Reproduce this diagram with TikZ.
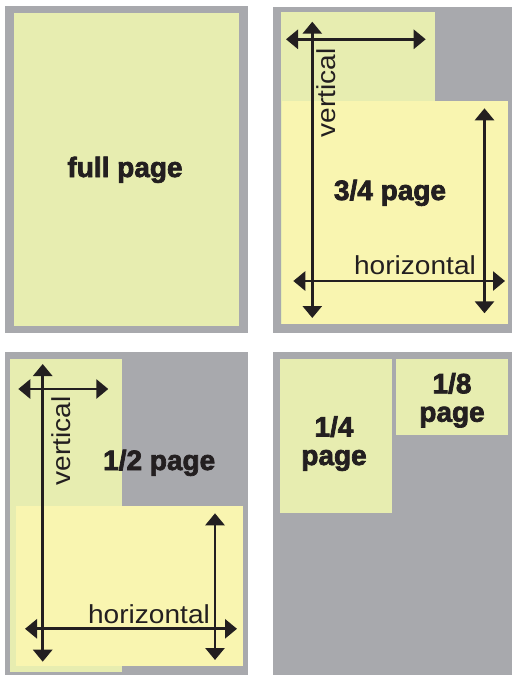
\documentclass[tikz,border=0pt]{standalone}
\usepackage{fontspec}
\setmainfont{Liberation Sans}
\newfontfamily\heavyfont[FakeBold=2.5]{Liberation Sans Bold}
\usepackage{graphicx}
\usetikzlibrary{arrows.meta}
\definecolor{panelgray}{RGB}{168,169,173}
\definecolor{pagegreen}{RGB}{231,237,176}
\definecolor{pageyellow}{RGB}{249,245,176}
\definecolor{inkdark}{RGB}{35,31,32}
\tikzset{
  panel/.style={fill=panelgray,draw=none},
  greenbox/.style={fill=pagegreen,draw=none},
  yellowbox/.style={fill=pageyellow,draw=none},
  dimarrow/.style={draw=inkdark,line width=2.8pt,{Triangle[length=12pt,width=19pt]}-{Triangle[length=12pt,width=19pt]}},
  biglabel/.style={text=inkdark,inner sep=0pt,anchor=base,font=\fontsize{28}{28}\selectfont\heavyfont},
  dimlabel/.style={text=inkdark,inner sep=0pt,anchor=base,font=\fontsize{26}{26}\selectfont},
}
\begin{document}
\begin{tikzpicture}[x=1pt,y=-1pt]
\useasboundingbox (0,0) rectangle (512,675);
\fill[white] (0,0) rectangle (512,675);
% ---------- panel 1: full page
\path[panel] (5,6) rectangle (248,333);
\path[greenbox] (14,13) rectangle (239,326);
\node[biglabel] (full) at (125,177) {full page};
% ---------- panel 2: 3/4 page
\path[panel] (272.5,6.5) rectangle (512,333);
\path[greenbox] (281,12) rectangle (435,324);
\path[yellowbox] (282,100.5) rectangle (508,324);
\coordinate (tv1) at (312.3,21.7);
\coordinate (tv2) at (312.3,318);
\coordinate (th1) at (286,39.3);
\coordinate (th2) at (425.7,39.3);
\coordinate (tr1) at (484.5,108.3);
\coordinate (tr2) at (484.5,313.3);
\coordinate (tb1) at (293.3,281);
\coordinate (tb2) at (505,281);
\draw[dimarrow] (tv1) -- (tv2);
\draw[dimarrow] (th1) -- (th2);
\draw[dimarrow] (tr1) -- (tr2);
\draw[dimarrow] (tb1) -- (tb2);
\node[dimlabel,rotate=90] (tvl) at (335.5,93) {\scalebox{1.08}[1]{vertical}};
\node[dimlabel] (thl) at (415,274) {\scalebox{1.08}[1]{horizontal}};
\node[biglabel] (three) at (390,200) {3/4 page};
% ---------- panel 3: 1/2 page
\path[panel] (5,351.5) rectangle (248,675);
\path[greenbox] (10,359) rectangle (121.7,671.7);
\path[yellowbox] (16,506) rectangle (243,665.7);
\coordinate (hv1) at (42.7,364);
\coordinate (hv2) at (42.7,661.7);
\coordinate (hh1) at (18.3,389);
\coordinate (hh2) at (108.3,389);
\coordinate (hr1) at (215,513.3);
\coordinate (hr2) at (215,660);
\coordinate (hb1) at (25,628.8);
\coordinate (hb2) at (237,628.8);
\draw[dimarrow] (hv1) -- (hv2);
\draw[dimarrow] (hh1) -- (hh2);
\draw[dimarrow] (hr1) -- (hr2);
\draw[dimarrow] (hb1) -- (hb2);
\node[dimlabel,rotate=90] (hvl) at (70.5,441) {\scalebox{1.08}[1]{vertical}};
\node[dimlabel] (hhl) at (149,623) {\scalebox{1.08}[1]{horizontal}};
\node[biglabel] (half) at (159.2,470) {1/2 page};
% ---------- panel 4: 1/4 and 1/8 page
\path[panel] (272.5,351.5) rectangle (512,675);
\path[greenbox] (280,359) rectangle (392,512.7);
\path[greenbox] (396,359) rectangle (508.3,435);
\node[biglabel] (quarterA) at (334,436.5) {1/4};
\node[biglabel] (quarterB) at (334,465) {page};
\node[biglabel] (eighthA) at (452,393.3) {1/8};
\node[biglabel] (eighthB) at (452,421.7) {page};
\end{tikzpicture}
\end{document}
